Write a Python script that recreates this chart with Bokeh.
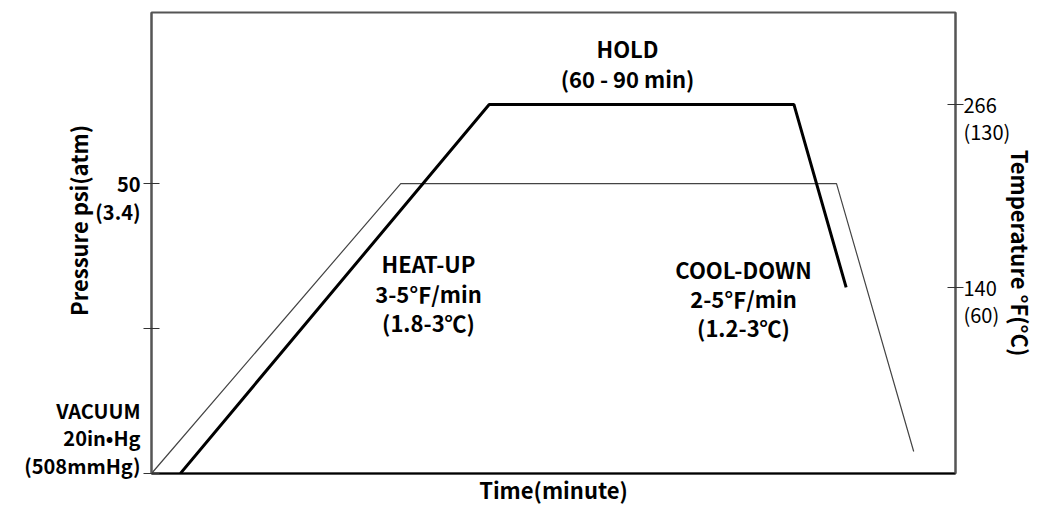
from bokeh.plotting import figure
from bokeh.models import Range1d, LinearAxis, Label, FixedTicker
from bokeh.embed import file_html
from bokeh.resources import INLINE

# ---- data ----
time_temp = [3.6, 42.0, 79.9, 86.4]      # time (arbitrary units)
temp_F = [12, 266, 266, 140]             # temperature (°F)
time_pres = [0, 31.0, 85.2, 94.8]
pres_psi = [0, 50, 50, 3.8]              # pressure (psi)
pres_ticks = [0, 25, 50]
pres_tick_labels = {0: "VACUUM\n20in•Hg\n(508mmHg)\n ", 25: " ", 50: " \n50\n(3.4)"}
temp_ticks = [140, 266]
temp_tick_labels = {266: " \n266\n(130)", 140: " \n140\n(60)"}
x_title = "Time(minute)"
left_title = "\u00a0" * 9 + "Pressure psi(atm)"
right_title = "\u00a0" * 4 + "Temperature °F(°C)"

FONT = "Noto Sans CJK KR"
FS = "22px"

X0, X1 = 0, 100
Y0, Y1 = 0, 79.5
T0, T1 = 11.9, 329.3

p = figure(width=1040, height=507, output_backend="svg", toolbar_location=None,
           x_range=Range1d(X0, X1), y_range=Range1d(Y0, Y1),
           min_border_left=151, min_border_right=85, min_border_top=12, min_border_bottom=34)
p.extra_y_ranges = {"temp": Range1d(T0, T1)}
p.grid.visible = False
p.background_fill_color = "white"
p.border_fill_color = "white"
p.outline_line_color = "#555555"
p.outline_line_width = 2

# bottom axis: plain line + title
xa = p.xaxis[0]
xa.ticker = FixedTicker(ticks=[])
xa.major_tick_out = 0
xa.major_tick_in = 0
xa.major_label_standoff = 0
xa.major_tick_line_color = None
xa.minor_tick_line_color = None
xa.axis_line_color = "black"
xa.axis_line_width = 2
xa.axis_label = x_title
xa.axis_label_text_font = FONT
xa.axis_label_text_font_style = "bold"
xa.axis_label_text_font_size = FS
xa.axis_label_text_color = "black"
xa.axis_label_standoff = -1

# left axis: crossing ticks
ly = p.yaxis[0]
ly.ticker = FixedTicker(ticks=pres_ticks)
ly.major_label_overrides = pres_tick_labels
ly.major_tick_in = 8
ly.major_tick_out = 8
ly.major_tick_line_color = "#333333"
ly.minor_tick_line_color = None
ly.axis_line_color = "#555555"
ly.axis_line_width = 2
ly.major_label_text_font = FONT
ly.major_label_text_font_size = "20px"
ly.major_label_text_font_style = "bold"
ly.major_label_text_color = "black"
ly.major_label_text_line_height = 0.95
ly.major_label_standoff = 3
ly.axis_label = left_title
ly.axis_label_text_font = FONT
ly.axis_label_text_font_style = "bold"
ly.axis_label_text_font_size = FS
ly.axis_label_text_color = "black"
ly.axis_label_standoff = -73

rax = LinearAxis(y_range_name="temp", ticker=FixedTicker(ticks=temp_ticks))
rax.major_label_overrides = temp_tick_labels
rax.major_tick_in = 8
rax.major_tick_out = 8
rax.major_tick_line_color = "#333333"
rax.minor_tick_line_color = None
rax.axis_line_color = "#555555"
rax.axis_line_width = 2
rax.major_label_text_font = FONT
rax.major_label_text_font_size = "20px"
rax.major_label_text_color = "black"
rax.major_label_text_line_height = 0.95
rax.major_label_standoff = 0
rax.axis_label = right_title
rax.axis_label_text_font = FONT
rax.axis_label_text_font_style = "bold"
rax.axis_label_text_font_size = FS
rax.axis_label_text_color = "black"
rax.axis_label_standoff = -8
p.add_layout(rax, "right")

# lines
p.line(time_pres, pres_psi, line_color="#444444", line_width=1.2)
p.line(time_temp, temp_F, line_color="black", line_width=3, y_range_name="temp")

# helpers: picture pixel -> data (frame: x 151..955, y 12..473)
def dx(px):
    return X0 + (px - 151) / 804 * (X1 - X0)

def dy(py):
    return Y0 + (473 - py) / 461 * (Y1 - Y0)

def lab(px, py, text):
    p.add_layout(Label(x=dx(px), y=dy(py), text=text, text_align="center",
                       text_baseline="middle", text_font=FONT, text_font_size=FS,
                       text_font_style="bold", text_color="black"))

lab(627, 47, "HOLD")
lab(627, 77, "(60 - 90 min)")
lab(428, 262, "HEAT-UP")
lab(428, 292, "3-5℉/min")
lab(428, 321, "(1.8-3℃)")
lab(743, 268, "COOL-DOWN")
lab(743, 297, "2-5℉/min")
lab(743, 326, "(1.2-3℃)")

open("out.html", "w").write(file_html(p, INLINE))
